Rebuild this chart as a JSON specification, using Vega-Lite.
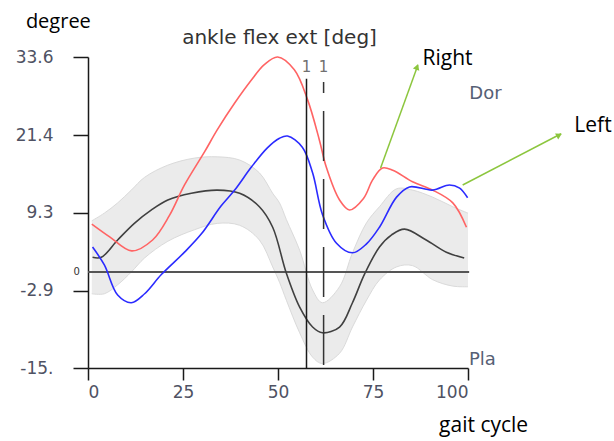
{
  "$schema": "https://vega.github.io/schema/vega-lite/v6.json",
  "width": 380,
  "height": 311,
  "autosize": "none",
  "padding": {"left": 88, "top": 57, "right": 146, "bottom": 73},
  "background": "white",
  "config": {
    "view": {"stroke": null},
    "axis": {"grid": false, "title": null},
    "axisX": {"tickSize": 12, "tickColor": "#1a1a1a", "tickWidth": 1.5, "domainColor": "#1a1a1a", "domainWidth": 1.5, "labelFont": "DejaVu Sans", "labelFontSize": 17, "labelColor": "#4f5263", "labelPadding": 4},
    "axisY": {"tickSize": 15, "tickColor": "#1a1a1a", "tickWidth": 1.5, "domainColor": "#1a1a1a", "domainWidth": 1.5, "labelFont": "DejaVu Sans", "labelFontSize": 17, "labelColor": "#4f5263", "labelPadding": 20}
  },
  "data": {"values": [{}]},
  "datasets": {
    "band": [
      {"x": 1, "lo": -3.4, "hi": 8.0},
      {"x": 4.3, "lo": -3.4, "hi": 9.2},
      {"x": 7.8, "lo": -2.0, "hi": 10.8},
      {"x": 11.4, "lo": 0.0, "hi": 12.8},
      {"x": 14.9, "lo": 2.2, "hi": 14.8},
      {"x": 21, "lo": 4.8, "hi": 16.7},
      {"x": 28, "lo": 6.6, "hi": 17.8},
      {"x": 34, "lo": 7.6, "hi": 18.0},
      {"x": 39.9, "lo": 7.3, "hi": 17.5},
      {"x": 45.1, "lo": 5.0, "hi": 15.5},
      {"x": 48.6, "lo": 0.8, "hi": 12.3},
      {"x": 50.4, "lo": -1.6, "hi": 10.8},
      {"x": 52.2, "lo": -4.4, "hi": 8.2},
      {"x": 55.7, "lo": -9.5, "hi": 3.4},
      {"x": 59.1, "lo": -13.3, "hi": -2.8},
      {"x": 61.7, "lo": -14.3, "hi": -4.8},
      {"x": 66.2, "lo": -12.7, "hi": -2.3},
      {"x": 69.6, "lo": -8.6, "hi": 3.0},
      {"x": 73.3, "lo": -4.4, "hi": 7.7},
      {"x": 76.7, "lo": -1.25, "hi": 10.2},
      {"x": 81.2, "lo": 0.8, "hi": 13.0},
      {"x": 85.4, "lo": 1.0, "hi": 12.8},
      {"x": 90.7, "lo": -1.2, "hi": 11.7},
      {"x": 96, "lo": -2.2, "hi": 10.2},
      {"x": 100, "lo": -2.3, "hi": 9.2}
    ],
    "lines": [
      {"s": "Normal", "x": 1.2, "y": 2.3},
      {"s": "Normal", "x": 3.5, "y": 2.3},
      {"s": "Normal", "x": 7.8, "y": 5.0},
      {"s": "Normal", "x": 12.2, "y": 7.6},
      {"s": "Normal", "x": 16.7, "y": 9.7},
      {"s": "Normal", "x": 21, "y": 11.25},
      {"s": "Normal", "x": 27.2, "y": 12.3},
      {"s": "Normal", "x": 34, "y": 12.8},
      {"s": "Normal", "x": 39.9, "y": 12.3},
      {"s": "Normal", "x": 45.1, "y": 10.2},
      {"s": "Normal", "x": 48.6, "y": 7.0},
      {"s": "Normal", "x": 52.2, "y": -0.2},
      {"s": "Normal", "x": 55.7, "y": -5.5},
      {"s": "Normal", "x": 59.1, "y": -8.6},
      {"s": "Normal", "x": 61.7, "y": -9.5},
      {"s": "Normal", "x": 66.2, "y": -8.6},
      {"s": "Normal", "x": 69.6, "y": -4.8},
      {"s": "Normal", "x": 72.8, "y": -0.3},
      {"s": "Normal", "x": 76.7, "y": 3.9},
      {"s": "Normal", "x": 79.9, "y": 5.8},
      {"s": "Normal", "x": 83.3, "y": 6.7},
      {"s": "Normal", "x": 89, "y": 5.0},
      {"s": "Normal", "x": 94.3, "y": 3.1},
      {"s": "Normal", "x": 99, "y": 2.2},
      {"s": "Right", "x": 1, "y": 7.5},
      {"s": "Right", "x": 5.7, "y": 5.5},
      {"s": "Right", "x": 11.5, "y": 3.3},
      {"s": "Right", "x": 17, "y": 5.0},
      {"s": "Right", "x": 21.4, "y": 8.8},
      {"s": "Right", "x": 25.4, "y": 13.6},
      {"s": "Right", "x": 30.7, "y": 18.8},
      {"s": "Right", "x": 34, "y": 22.2},
      {"s": "Right", "x": 38.6, "y": 26.4},
      {"s": "Right", "x": 43, "y": 30.0},
      {"s": "Right", "x": 46.4, "y": 32.4},
      {"s": "Right", "x": 49.9, "y": 33.6},
      {"s": "Right", "x": 54.3, "y": 31.6},
      {"s": "Right", "x": 57.8, "y": 26.9},
      {"s": "Right", "x": 60.9, "y": 20.6},
      {"s": "Right", "x": 62.7, "y": 16.4},
      {"s": "Right", "x": 66.2, "y": 11.25},
      {"s": "Right", "x": 68.8, "y": 9.7},
      {"s": "Right", "x": 72.5, "y": 11.5},
      {"s": "Right", "x": 74.9, "y": 14.4},
      {"s": "Right", "x": 77.5, "y": 16.25},
      {"s": "Right", "x": 80.2, "y": 15.9},
      {"s": "Right", "x": 85.4, "y": 14.1},
      {"s": "Right", "x": 90.7, "y": 12.8},
      {"s": "Right", "x": 96, "y": 10.8},
      {"s": "Right", "x": 99.6, "y": 7.0},
      {"s": "Left", "x": 1.2, "y": 3.9},
      {"s": "Left", "x": 4.3, "y": 1.1},
      {"s": "Left", "x": 7.8, "y": -3.6},
      {"s": "Left", "x": 11.4, "y": -4.8},
      {"s": "Left", "x": 14.9, "y": -3.4},
      {"s": "Left", "x": 19.3, "y": -0.4},
      {"s": "Left", "x": 25.4, "y": 3.1},
      {"s": "Left", "x": 29.9, "y": 6.0},
      {"s": "Left", "x": 35, "y": 10.3},
      {"s": "Left", "x": 38.6, "y": 12.8},
      {"s": "Left", "x": 43, "y": 16.4},
      {"s": "Left", "x": 47.2, "y": 19.4},
      {"s": "Left", "x": 50.4, "y": 20.9},
      {"s": "Left", "x": 52.5, "y": 21.25},
      {"s": "Left", "x": 56.4, "y": 19.5},
      {"s": "Left", "x": 59.1, "y": 15.5},
      {"s": "Left", "x": 61.7, "y": 9.0},
      {"s": "Left", "x": 65.4, "y": 4.5},
      {"s": "Left", "x": 69.6, "y": 3.0},
      {"s": "Left", "x": 73.3, "y": 4.4},
      {"s": "Left", "x": 76.7, "y": 7.0},
      {"s": "Left", "x": 81.2, "y": 11.7},
      {"s": "Left", "x": 84.6, "y": 13.3},
      {"s": "Left", "x": 90.7, "y": 12.8},
      {"s": "Left", "x": 95.1, "y": 13.6},
      {"s": "Left", "x": 97.8, "y": 13.1},
      {"s": "Left", "x": 99.9, "y": 11.6}
    ]
  },
  "layer": [
    {
      "data": {"name": "band"},
      "mark": {"type": "area", "color": "#ebebeb", "interpolate": "catmull-rom"},
      "encoding": {
        "x": {"field": "x", "type": "quantitative", "title": null, "scale": {"domain": [0, 100], "nice": false, "zero": false}, "axis": {"values": [0, 25, 50, 75, 100]}},
        "y": {"field": "lo", "type": "quantitative", "title": null, "scale": {"domain": [-15, 33.6], "nice": false, "zero": false}, "axis": {"values": [33.6, 21.4, 9.3, -2.9, -15], "labelExpr": "datum.value == -15 ? '-15.' : (datum.value < 0 ? '-' + format(abs(datum.value), '.1f') : format(datum.value, '.1f'))"}},
        "y2": {"field": "hi"}
      }
    },
    {
      "data": {"name": "band"},
      "mark": {"type": "line", "color": "#dadada", "strokeWidth": 1, "interpolate": "catmull-rom"},
      "encoding": {
        "x": {"field": "x", "type": "quantitative", "title": null, "scale": {"domain": [0, 100]}},
        "y": {"field": "hi", "type": "quantitative", "title": null, "scale": {"domain": [-15, 33.6]}}
      }
    },
    {
      "data": {"name": "band"},
      "mark": {"type": "line", "color": "#dadada", "strokeWidth": 1, "interpolate": "catmull-rom"},
      "encoding": {
        "x": {"field": "x", "type": "quantitative", "title": null, "scale": {"domain": [0, 100]}},
        "y": {"field": "lo", "type": "quantitative", "title": null, "scale": {"domain": [-15, 33.6]}}
      }
    },
    {
      "mark": {"type": "rule", "color": "#555555", "strokeWidth": 2},
      "encoding": {
        "x": {"datum": 0, "type": "quantitative", "title": null, "scale": {"domain": [0, 100]}},
        "x2": {"datum": 100.3},
        "y": {"datum": 0, "type": "quantitative", "title": null, "scale": {"domain": [-15, 33.6]}}
      }
    },
    {
      "data": {"name": "lines"},
      "mark": {"type": "line", "interpolate": "catmull-rom"},
      "encoding": {
        "x": {"field": "x", "type": "quantitative", "title": null, "scale": {"domain": [0, 100]}},
        "y": {"field": "y", "type": "quantitative", "title": null, "scale": {"domain": [-15, 33.6]}},
        "color": {"field": "s", "type": "nominal", "legend": null, "scale": {"domain": ["Normal", "Right", "Left"], "range": ["#404040", "#ff6464", "#2b2bff"]}},
        "strokeWidth": {"field": "s", "type": "nominal", "legend": null, "scale": {"domain": ["Normal", "Right", "Left"], "range": [1.6, 1.6, 2.2]}}
      }
    },
    {
      "mark": {"type": "rule", "color": "#1a1a1a", "strokeWidth": 1.5},
      "encoding": {
        "x": {"datum": 57.5, "type": "quantitative", "title": null, "scale": {"domain": [0, 100]}},
        "y": {"datum": 30.2, "type": "quantitative", "title": null, "scale": {"domain": [-15, 33.6]}},
        "y2": {"datum": -15}
      }
    },
    {
      "mark": {"type": "rule", "color": "#333333", "strokeWidth": 1.5, "strokeDash": [50, 18], "strokeDashOffset": 39},
      "encoding": {
        "x": {"datum": 62, "type": "quantitative", "title": null, "scale": {"domain": [0, 100]}},
        "y": {"datum": 29.7, "type": "quantitative", "title": null, "scale": {"domain": [-15, 33.6]}},
        "y2": {"datum": -15}
      }
    },
    {
      "mark": {"type": "text", "text": "1", "font": "DejaVu Sans", "fontSize": 15, "color": "#707070", "baseline": "middle"},
      "encoding": {
        "x": {"datum": 57.5, "type": "quantitative", "title": null, "scale": {"domain": [0, 100]}},
        "y": {"datum": 32.0, "type": "quantitative", "title": null, "scale": {"domain": [-15, 33.6]}}
      }
    },
    {
      "mark": {"type": "text", "text": "1", "font": "DejaVu Sans", "fontSize": 15, "color": "#707070", "baseline": "middle"},
      "encoding": {
        "x": {"datum": 62, "type": "quantitative", "title": null, "scale": {"domain": [0, 100]}},
        "y": {"datum": 32.0, "type": "quantitative", "title": null, "scale": {"domain": [-15, 33.6]}}
      }
    },
    {
      "mark": {"type": "text", "text": "0", "font": "DejaVu Sans", "fontSize": 10, "color": "#333333", "baseline": "middle"},
      "encoding": {
        "x": {"datum": -3, "type": "quantitative", "title": null, "scale": {"domain": [0, 100]}},
        "y": {"datum": 0, "type": "quantitative", "title": null, "scale": {"domain": [-15, 33.6]}}
      }
    },
    {
      "mark": {"type": "text", "text": "ankle flex ext [deg]", "font": "DejaVu Sans", "fontSize": 20, "color": "#333333", "baseline": "middle"},
      "encoding": {
        "x": {"datum": 50.4, "type": "quantitative", "title": null, "scale": {"domain": [0, 100]}},
        "y": {"datum": 36.6, "type": "quantitative", "title": null, "scale": {"domain": [-15, 33.6]}}
      }
    },
    {
      "mark": {"type": "text", "text": "degree", "font": "Open Sans", "fontSize": 20, "color": "#000000", "baseline": "alphabetic"},
      "encoding": {
        "x": {"datum": -7.8, "type": "quantitative", "title": null, "scale": {"domain": [0, 100]}},
        "y": {"datum": 38.1, "type": "quantitative", "title": null, "scale": {"domain": [-15, 33.6]}}
      }
    },
    {
      "mark": {"type": "text", "text": "gait cycle", "font": "Open Sans", "fontSize": 21, "color": "#000000", "baseline": "alphabetic"},
      "encoding": {
        "x": {"datum": 104.1, "type": "quantitative", "title": null, "scale": {"domain": [0, 100]}},
        "y": {"datum": -25, "type": "quantitative", "title": null, "scale": {"domain": [-15, 33.6]}}
      }
    },
    {
      "mark": {"type": "text", "text": "Dor", "font": "DejaVu Sans", "fontSize": 18, "color": "#566075", "baseline": "alphabetic"},
      "encoding": {
        "x": {"datum": 104.6, "type": "quantitative", "title": null, "scale": {"domain": [0, 100]}},
        "y": {"datum": 27.0, "type": "quantitative", "title": null, "scale": {"domain": [-15, 33.6]}}
      }
    },
    {
      "mark": {"type": "text", "text": "Pla", "font": "DejaVu Sans", "fontSize": 18, "color": "#566075", "baseline": "alphabetic"},
      "encoding": {
        "x": {"datum": 103.8, "type": "quantitative", "title": null, "scale": {"domain": [0, 100]}},
        "y": {"datum": -14.5, "type": "quantitative", "title": null, "scale": {"domain": [-15, 33.6]}}
      }
    },
    {
      "mark": {"type": "rule", "color": "#8cc63e", "strokeWidth": 1.5},
      "encoding": {
        "x": {"datum": 77, "type": "quantitative", "title": null, "scale": {"domain": [0, 100]}},
        "y": {"datum": 16.25, "type": "quantitative", "title": null, "scale": {"domain": [-15, 33.6]}},
        "x2": {"datum": 86.8},
        "y2": {"datum": 32.3}
      }
    },
    {
      "mark": {"type": "point", "shape": "triangle-up", "filled": true, "color": "#8cc63e", "size": 45, "angle": 20, "opacity": 1},
      "encoding": {
        "x": {"datum": 86.6, "type": "quantitative", "title": null, "scale": {"domain": [0, 100]}},
        "y": {"datum": 32.06, "type": "quantitative", "title": null, "scale": {"domain": [-15, 33.6]}}
      }
    },
    {
      "mark": {"type": "rule", "color": "#8cc63e", "strokeWidth": 1.5},
      "encoding": {
        "x": {"datum": 98.6, "type": "quantitative", "title": null, "scale": {"domain": [0, 100]}},
        "y": {"datum": 13.6, "type": "quantitative", "title": null, "scale": {"domain": [-15, 33.6]}},
        "x2": {"datum": 124.5},
        "y2": {"datum": 21.6}
      }
    },
    {
      "mark": {"type": "point", "shape": "triangle-up", "filled": true, "color": "#8cc63e", "size": 45, "angle": 62.5, "opacity": 1},
      "encoding": {
        "x": {"datum": 124.0, "type": "quantitative", "title": null, "scale": {"domain": [0, 100]}},
        "y": {"datum": 21.4, "type": "quantitative", "title": null, "scale": {"domain": [-15, 33.6]}}
      }
    },
    {
      "mark": {"type": "text", "text": "Right", "font": "Open Sans", "fontSize": 21, "color": "#000000", "baseline": "alphabetic"},
      "encoding": {
        "x": {"datum": 94.6, "type": "quantitative", "title": null, "scale": {"domain": [0, 100]}},
        "y": {"datum": 32.3, "type": "quantitative", "title": null, "scale": {"domain": [-15, 33.6]}}
      }
    },
    {
      "mark": {"type": "text", "text": "Left", "font": "Open Sans", "fontSize": 21, "color": "#000000", "baseline": "alphabetic"},
      "encoding": {
        "x": {"datum": 132.9, "type": "quantitative", "title": null, "scale": {"domain": [0, 100]}},
        "y": {"datum": 21.9, "type": "quantitative", "title": null, "scale": {"domain": [-15, 33.6]}}
      }
    }
  ]
}
